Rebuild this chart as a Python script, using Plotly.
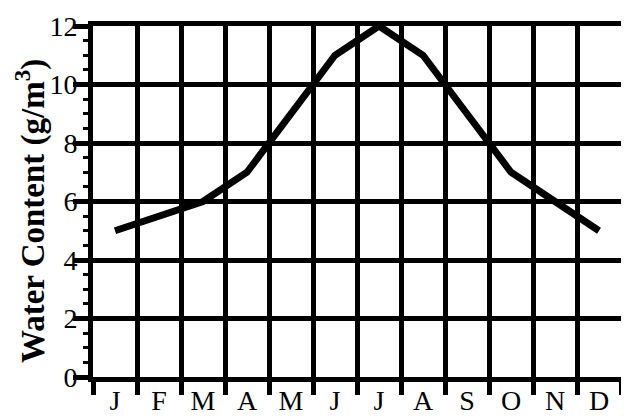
import plotly.graph_objects as go

months = ["J", "F", "M", "A", "M", "J", "J", "A", "S", "O", "N", "D"]
water_content = [5, 5.5, 6, 7, 9, 11, 12, 11, 9, 7, 6, 5]
y_ticks = [0, 2, 4, 6, 8, 10, 12]
month_positions = [i + 0.5 for i in range(len(months))]
cell_edges = list(range(len(months) + 1))

FONT = "'Times New Roman', 'Liberation Serif', 'DejaVu Serif', serif"

fig = go.Figure()
fig.add_trace(go.Scatter(
    x=month_positions, y=water_content, mode="lines",
    line=dict(color="black", width=7), showlegend=False, hoverinfo="skip",
))

fig.update_layout(
    template="none",
    width=621, height=417,
    margin=dict(l=85, r=8, t=18, b=48),
    paper_bgcolor="white", plot_bgcolor="white",
    font=dict(family=FONT, color="black"),
    xaxis=dict(
        automargin=False,
        range=[0, 12], tickmode="array", tickvals=month_positions, ticktext=months,
        showgrid=False, zeroline=False,
        ticks="", ticklabelstandoff=-6,
        tickfont=dict(family=FONT, size=28, color="black"),
        showline=True, mirror=True, linecolor="black", linewidth=5,
        minor=dict(tickmode="array", tickvals=cell_edges, showgrid=True,
                   gridcolor="black", gridwidth=5, ticks="outside",
                   ticklen=13, tickwidth=5, tickcolor="black"),
        fixedrange=True,
    ),
    yaxis=dict(
        automargin=False,
        range=[0, 12], tickmode="array", tickvals=y_ticks,
        showgrid=True, gridcolor="black", gridwidth=5, zeroline=False,
        ticks="outside", ticklen=15, tickwidth=5, tickcolor="black",
        ticklabelstandoff=-10,
        tickfont=dict(family=FONT, size=28, color="black"),
        showline=True, mirror=True, linecolor="black", linewidth=5,
        minor=dict(dtick=0.5, tick0=0, showgrid=False, ticks="outside",
                   ticklen=5, tickwidth=3, tickcolor="black"),
        fixedrange=True,
    ),
    annotations=[dict(
        text="<b>Water Content (g/m<sup>3</sup>)</b>",
        textangle=-90, xref="paper", yref="paper",
        x=-0.1174, y=0.473, xanchor="center", yanchor="middle",
        showarrow=False, font=dict(family=FONT, size=33, color="black"),
    )],
)

fig.write_html("out.html")
